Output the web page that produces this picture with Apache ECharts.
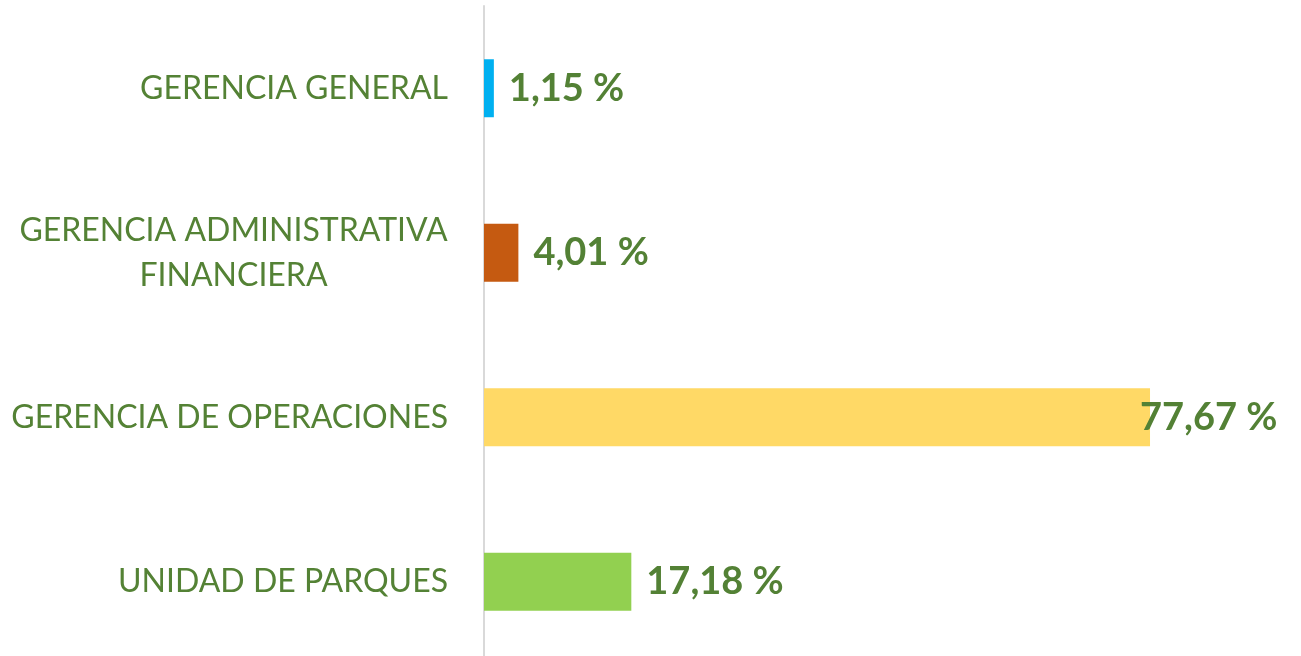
<!DOCTYPE html>
<html>
<head>
<meta charset="utf-8">
<script src="https://cdn.jsdelivr.net/npm/echarts@6/dist/echarts.min.js"></script>
<style>
  html, body { margin: 0; padding: 0; background: #ffffff; overflow: hidden; }
  #chart { width: 1301px; height: 670px; }
</style>
</head>
<body>
<div id="chart"></div>
<script>
// datos del grafico (de arriba hacia abajo)
var categorias= ['GERENCIA GENERAL', 'GERENCIA ADMINISTRATIVA\nFINANCIERA', 'GERENCIA DE OPERACIONES', 'UNIDAD DE PARQUES'];
var valores= [1.15, 4.01, 77.67, 17.18];
var colores= ['#00B0F0', '#C55A11', '#FFD966', '#92D050'];

var verde= '#548235';
var fuente= 'Lato';
var tamanio= 32;

// ancho de una linea de texto, para centrar las etiquetas de dos lineas
function ancho(texto) {
  var ctx= document.createElement('canvas').getContext('2d');
  ctx.font= tamanio+ 'px '+ fuente;
  return Math.ceil(ctx.measureText(texto).width);
}

var datos= valores.map(function(v, i) {
  var item= {value: v, itemStyle: {color: colores[i]}};
  if(v> 60)
    item.label= {offset: [-25, 0]}; // la etiqueta se monta sobre el final de la barra
  return item;
});

// el marco es algo mas alto que la ventana: el eje sigue por debajo del borde
var chart= echarts.init(document.getElementById('chart'), null, {renderer: 'canvas'});
chart.setOption({
  backgroundColor: '#ffffff',
  animation: false,
  grid: {left: 484, width: 686, top: 6, height: 658, containLabel: false},
  xAxis: {
    type: 'value', min: 0, max: 80,
    show: false
  },
  yAxis: {
    type: 'category',
    inverse: true,
    data: categorias,
    axisLine: {show: true, lineStyle: {color: '#D9D9D9', width: 2}},
    axisTick: {show: false},
    splitLine: {show: false},
    axisLabel: {
      margin: 36,
      color: verde,
      fontFamily: fuente,
      fontSize: tamanio,
      lineHeight: 45,
      formatter: function(value) {
        var lineas= value.split('\n');
        if(lineas.length< 2)
          return value;
        return lineas.map(function(l) { return '{c|'+ l+ '}'; }).join('\n');
      },
      rich: {
        c: {
          color: verde, fontFamily: fuente, fontSize: tamanio, lineHeight: 45,
          width: ancho('GERENCIA ADMINISTRATIVA'), align: 'center'
        }
      }
    }
  },
  series: [{
    type: 'bar',
    data: datos,
    barWidth: 58,
    label: {
      show: true,
      position: 'right',
      distance: 15,
      color: '#538135',
      fontFamily: fuente,
      fontWeight: 'bold',
      fontSize: 38,
      formatter: function(p) {
        return p.value.toFixed(2).replace('.', ',')+ ' %';
      }
    }
  }]
});
</script>
</body>
</html>
